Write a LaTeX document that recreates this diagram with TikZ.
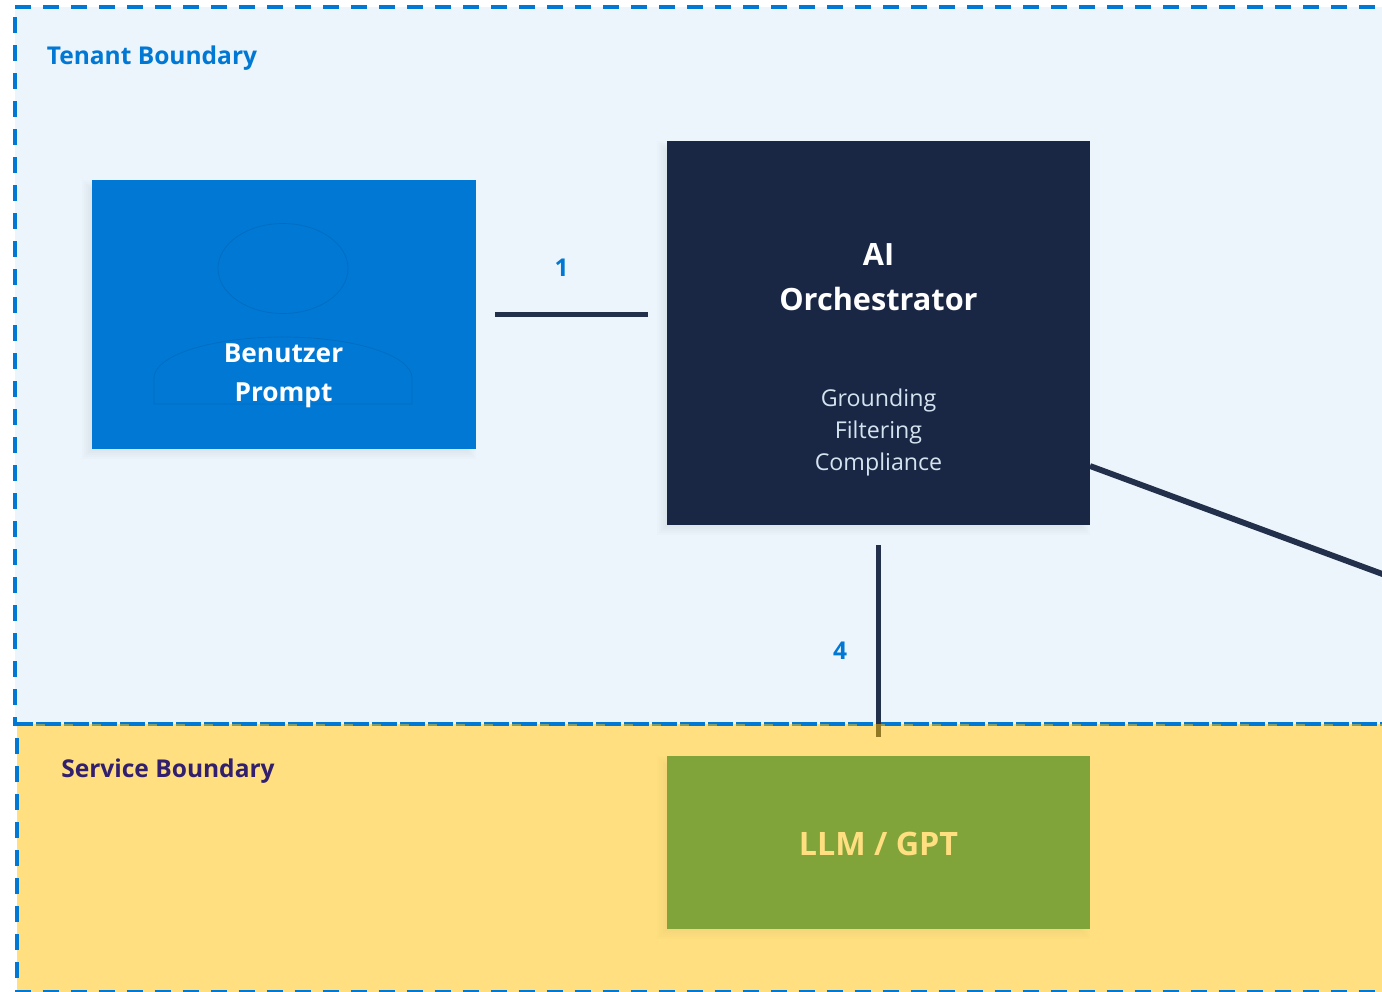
\documentclass[tikz,border=0pt]{standalone}
\usepackage{fontspec}
\setmainfont{Open Sans}
\usetikzlibrary{backgrounds}
\definecolor{azure}{HTML}{0078D4}
\definecolor{navy}{HTML}{1A2744}
\definecolor{tenantbg}{HTML}{EDF5FC}
\definecolor{amber}{HTML}{FFC000}
\definecolor{olive}{HTML}{80A33A}
\definecolor{indigo}{HTML}{32206F}
\definecolor{outline}{HTML}{006CC0}
\definecolor{paleblue}{HTML}{D5E3F0}
\tikzset{
	box/.style = {shape = rectangle, inner sep = 0pt, text = white, font = \bfseries},
	link/.style = {draw = navy!96!white, line width = 4.4pt},
	boundary/.style = {draw = azure, line width = 3pt, dash pattern = on 12pt off 9pt},
	flag/.style = {text = azure, font = \fontsize{18.4}{24}\bfseries\selectfont, inner sep = 0pt},
	detail/.style = {text = paleblue, font = \fontsize{17.4}{24}\selectfont, inner sep = 0pt},
	shape title/.style = {text = white, font = \fontsize{23}{33}\bfseries\selectfont, inner sep = 0pt}
}
\begin{document}
\begin{tikzpicture}[x = .75pt, y = -.75pt]
	\useasboundingbox (0, 0) rectangle (1382, 992);
	% boxes
	\node[box, fill = azure, minimum width = 288pt, minimum height = 201.75pt] (prompt) at (284, 314.5) {};
	\node[box, fill = navy, minimum width = 317.25pt, minimum height = 288pt] (orch) at (878.5, 333) {};
	\node[box, fill = olive, minimum width = 317.25pt, minimum height = 129.75pt] (llm) at (878.5, 842.5) {};
	% person
	\draw [outline, line width = .5pt] (prompt.center) ++(-1, -46) ellipse [x radius = 65, y radius = 45];
	\draw [outline, line width = .5pt] (154, 404) -- (154, 378) arc [start angle = 180, end angle = 360, x radius = 129, y radius = 41] -- (412, 404) -- cycle;
	% texts
	\node[flag, anchor = base west] (tenantlabel) at (46.5, 64.5) {Tenant Boundary};
	\node[flag, text = indigo, anchor = base west] (servicelabel) at (61, 777.5) {Service Boundary};
	\node[box, font = \fontsize{19.7}{29}\bfseries\selectfont, align = center] (promptlabel) at (283.5, 375.5) {Benutzer\\Prompt};
	\node[shape title, anchor = base] (orchai) at (878.5, 265) {AI};
	\node[shape title, anchor = base] (orchname) at (878.5, 310) {Orchestrator};
	\foreach \y/\word/\nm in {406/Grounding/ground, 438/Filtering/filter, 470/Compliance/comply}{
		\node[detail, anchor = base] (\nm) at (878.5, \y) {\word};}
	\node[shape title, font = \fontsize{24.2}{33}\bfseries\selectfont, text = amber!50!white, anchor = base] (llmlabel) at (878.5, 855) {LLM / GPT};
	\node[flag, anchor = base] (one) at (561.5, 276) {1};
	\node[flag, anchor = base] (four) at (840, 659.5) {4};
	\coordinate (orchout) at (1090, 466);
	\coordinate (offpage) at (1400, 580.5);
	\begin{pgfonlayer}{background}
		\clip (0, 0) rectangle (1382, 992);
		\fill [tenantbg] (15, 7) rectangle (1400, 724);
		\foreach \s in {2, 4, 6, 8, 10}{
			\fill [black, opacity = .012] (92 - \s, 190 - \s) rectangle (466 + \s, 449 + \s);
			\fill [black, opacity = .012] (667 - \s, 151 - \s) rectangle (1080 + \s, 525 + \s);}
		\draw [boundary] (15, 7) -- (1400, 7) (15, 17) -- (15, 724) -- (1400, 724);
		\draw [link, shorten <= 14.25pt, shorten >= 14.25pt] (prompt.east) -- (prompt.east -| orch.west);
		\draw [link, shorten <= 15pt, shorten >= 14.25pt] (orch.south) -- (llm.north);
		\draw [link] (orchout) -- (offpage);
		\fill [amber, opacity = .5] (16.5, 724) rectangle (1400, 992);
		\draw [boundary] (16.5, 724) -- (1400, 724) (16.5, 738) -- (16.5, 992) -- (1400, 992);
		\foreach \s in {2, 4, 6, 8, 10}{
			\fill [black, opacity = .008] (667 - \s, 766 - \s) rectangle (1080 + \s, 929 + \s);}
	\end{pgfonlayer}
\end{tikzpicture}
\end{document}
